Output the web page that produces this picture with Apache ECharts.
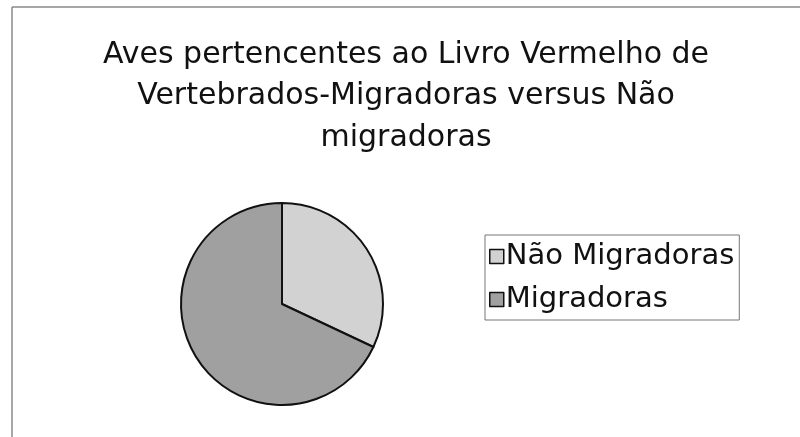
<!DOCTYPE html>
<html>
<head>
<meta charset="utf-8">
<script src="https://cdn.jsdelivr.net/npm/echarts@6/dist/echarts.min.js"></script>
<style>
  html, body { margin: 0; padding: 0; background: #fff; }
  #chart { width: 800px; height: 437px; }
</style>
</head>
<body>
<div id="chart"></div>
<script>
  // categorias e valores (%)
  var categorias = ['Não Migradoras', 'Migradoras'];
  var valores = [32, 68];
  var cores = ['#d2d2d2', '#a0a0a0'];

  var fonte = '"DejaVu Sans", "Liberation Sans", Arial, sans-serif';

  var chart = echarts.init(document.getElementById('chart'));
  chart.setOption({
    animation: false,
    backgroundColor: '#fff',
    title: {
      text: 'Aves pertencentes ao Livro Vermelho de\nVertebrados-Migradoras versus Não\nmigradoras',
      left: 401,
      textAlign: 'center',
      top: 29,
      textStyle: {
        fontFamily: fonte,
        fontSize: 30,
        fontWeight: 'normal',
        color: '#111',
        lineHeight: 41.5
      }
    },
    legend: {
      orient: 'vertical',
      left: 485,
      top: 235,
      padding: [7, 5, 6, 4],
      itemGap: 14,
      itemWidth: 14,
      itemHeight: 14,
      icon: 'rect',
      borderColor: '#777',
      borderWidth: 1,
      data: categorias,
      itemStyle: { borderColor: '#111', borderWidth: 1.5 },
      textStyle: { fontFamily: fonte, fontSize: 29, lineHeight: 28, color: '#111', padding: [0, 0, 0, -3] }
    },
    graphic: [
      // moldura da área do gráfico (só topo e esquerda visíveis)
      { type: 'line', shape: { x1: 12, y1: 7, x2: 800, y2: 7 }, style: { stroke: '#8a8a8a', lineWidth: 1.5 } },
      { type: 'line', shape: { x1: 12, y1: 7, x2: 12, y2: 437 }, style: { stroke: '#8a8a8a', lineWidth: 1.5 } }
    ],
    series: [{
      type: 'pie',
      center: [282, 304],
      radius: 101,
      startAngle: 90,
      clockwise: true,
      label: { show: false },
      labelLine: { show: false },
      emphasis: { disabled: true },
      itemStyle: { borderColor: '#111', borderWidth: 2 },
      data: categorias.map(function (c, i) {
        return { name: c, value: valores[i], itemStyle: { color: cores[i] } };
      })
    }]
  });
</script>
</body>
</html>
